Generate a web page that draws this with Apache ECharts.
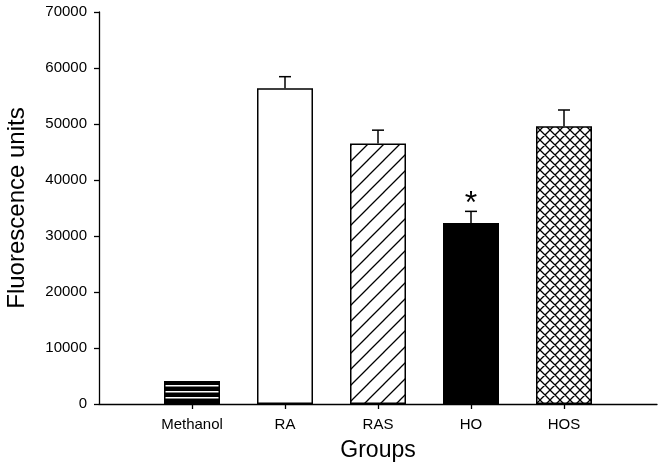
<!DOCTYPE html>
<html>
<head>
<meta charset="utf-8">
<script src="https://cdn.jsdelivr.net/npm/echarts@6/dist/echarts.min.js"></script>
<style>
  html, body { margin: 0; padding: 0; background: #fff; }
  #chart { width: 664px; height: 471px; }
</style>
</head>
<body>
<div id="chart"></div>
<script>
// ---- data ----
const categories = ['Methanol', 'RA', 'RAS', 'HO', 'HOS'];
const means = [4100, 56400, 46500, 32300, 49600];
const errors = [0, 2050, 2400, 2100, 2900];
const marks = ['', '', '', '*', ''];
const yMin = 0, yMax = 70000, yInterval = 10000;

// ---- fill patterns ----
function makeCanvas(w, h) {
  const c = document.createElement('canvas');
  c.width = w; c.height = h;
  return c;
}
function hLines() {
  const c = makeCanvas(4, 6);
  const g = c.getContext('2d');
  g.fillStyle = '#000'; g.fillRect(0, 0, 4, 6);
  g.fillStyle = '#fff'; g.fillRect(0, 1, 4, 1.5);
  return c;
}
function diag(s, lw) {
  const c = makeCanvas(s, s);
  const g = c.getContext('2d');
  g.fillStyle = '#fff'; g.fillRect(0, 0, s, s);
  g.strokeStyle = '#000'; g.lineWidth = lw;
  g.beginPath();
  g.moveTo(-2, s + 2); g.lineTo(s + 2, -2);
  g.moveTo(-2, 2); g.lineTo(2, -2);
  g.moveTo(s - 2, s + 2); g.lineTo(s + 2, s - 2);
  g.stroke();
  return c;
}
function cross(s, lw) {
  const c = makeCanvas(s, s);
  const g = c.getContext('2d');
  g.fillStyle = '#fff'; g.fillRect(0, 0, s, s);
  g.strokeStyle = '#000'; g.lineWidth = lw;
  g.beginPath();
  g.moveTo(-2, s + 2); g.lineTo(s + 2, -2);
  g.moveTo(-2, 2); g.lineTo(2, -2);
  g.moveTo(s - 2, s + 2); g.lineTo(s + 2, s - 2);
  g.moveTo(-2, -2); g.lineTo(s + 2, s + 2);
  g.moveTo(-2, s - 2); g.lineTo(2, s + 2);
  g.moveTo(s - 2, -2); g.lineTo(s + 2, 2);
  g.stroke();
  return c;
}
const fills = [
  { image: hLines(), repeat: 'repeat' },
  '#ffffff',
  { image: diag(16, 1.3), repeat: 'repeat' },
  '#000000',
  { image: cross(10, 1.3), repeat: 'repeat' }
];

const FONT = 'Liberation Sans, Arial, Helvetica, sans-serif';
const xData = [''].concat(categories).concat(['']);
const barData = [null].concat(means.map((v, i) => ({
  value: v,
  itemStyle: { color: fills[i] }
}))).concat([null]);
const errData = categories.map((c, i) => [i + 1, means[i], errors[i], marks[i]]);

const chart = echarts.init(document.getElementById('chart'), null, { renderer: 'canvas' });
chart.setOption({
  animation: false,
  backgroundColor: '#ffffff',
  grid: { left: 99, right: 7, top: 12, bottom: 67, containLabel: false, outerBoundsMode: 'none' },
  xAxis: {
    type: 'category',
    data: xData,
    boundaryGap: false,
    name: 'Groups',
    nameLocation: 'middle',
    nameGap: 35,
    nameTextStyle: { fontFamily: FONT, fontSize: 23, color: '#000' },
    axisLine: { lineStyle: { color: '#000', width: 1.3 } },
    axisTick: {
      length: 5, lineStyle: { color: '#000', width: 1.3 },
      interval: (idx, val) => val !== ''
    },
    axisLabel: {
      interval: (idx, val) => val !== '',
      fontFamily: FONT, fontSize: 15, color: '#000', margin: 13
    },
    splitLine: { show: false }
  },
  yAxis: {
    type: 'value',
    min: yMin, max: yMax, interval: yInterval,
    name: 'Fluorescence units',
    nameLocation: 'middle',
    nameGap: 70,
    nameTextStyle: { fontFamily: FONT, fontSize: 24, color: '#000' },
    axisLine: { show: true, lineStyle: { color: '#000', width: 1.3 } },
    axisTick: { show: true, length: 5, lineStyle: { color: '#000', width: 1.3 } },
    axisLabel: {
      fontFamily: FONT, fontSize: 15, color: '#000', margin: 12,
      formatter: (v) => String(v)
    },
    splitLine: { show: false }
  },
  series: [
    {
      type: 'bar',
      data: barData,
      barWidth: 56,
      itemStyle: { borderColor: '#000', borderWidth: 1.5 },
      z: 2
    },
    {
      type: 'custom',
      data: errData,
      z: 3,
      renderItem: function (params, api) {
        const x = api.value(0);
        const m = api.value(1);
        const e = api.value(2);
        const mark = errData[params.dataIndex][3];
        const base = api.coord([x, m]);
        const top = api.coord([x, m + e]);
        const children = [];
        if (e > 0) {
          children.push({
            type: 'line',
            shape: { x1: base[0], y1: base[1], x2: top[0], y2: top[1] },
            style: { stroke: '#000', lineWidth: 1.5 }
          });
          children.push({
            type: 'line',
            shape: { x1: top[0] - 6, y1: top[1], x2: top[0] + 6, y2: top[1] },
            style: { stroke: '#000', lineWidth: 1.5 }
          });
        }
        if (mark) {
          children.push({
            type: 'text',
            style: {
              text: mark, x: top[0], y: top[1] - 7,
              align: 'center', verticalAlign: 'middle',
              fontFamily: FONT, fontSize: 32, fill: '#000'
            }
          });
        }
        return { type: 'group', children: children };
      }
    }
  ]
});
</script>
</body>
</html>
